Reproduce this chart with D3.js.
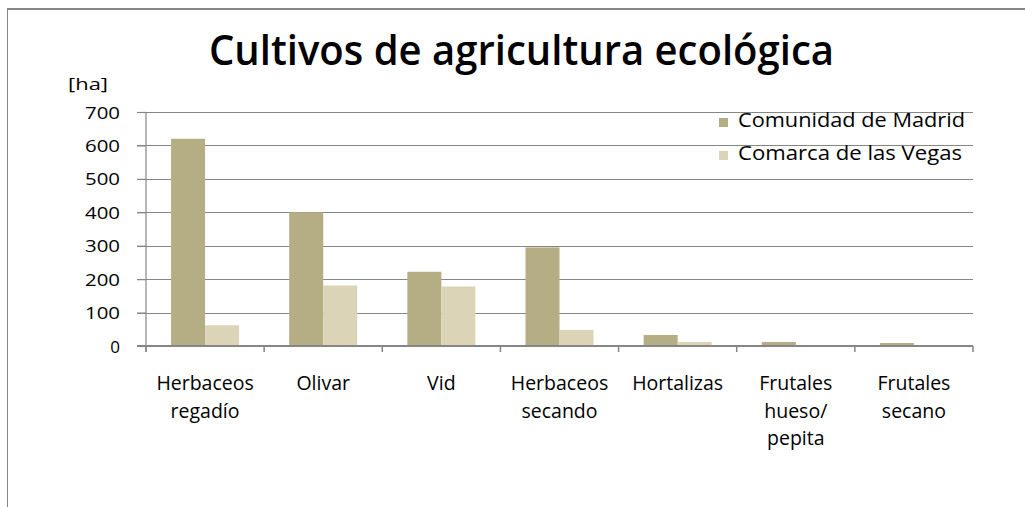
<!DOCTYPE html>
<html><head><meta charset="utf-8">
<script src="https://cdn.jsdelivr.net/npm/d3@7"></script>
<style>html,body{margin:0;padding:0;background:#fff;}svg{display:block;}</style>
</head><body>
<svg id="c" width="1025" height="507"></svg>
<script>
const categories = [["Herbaceos","regadío"],["Olivar"],["Vid"],["Herbaceos","secando"],["Hortalizas"],["Frutales","hueso/","pepita"],["Frutales","secano"]];
const seriesNames = ["Comunidad de Madrid","Comarca de las Vegas"];
const madrid = [620, 400, 222, 295, 33, 12, 9];
const vegas  = [62, 181, 178, 48, 12, 0, 0];
const yTicks = [0,100,200,300,400,500,600,700];
const colors = ["#b5ae85","#dbd4b7"];
const title = "Cultivos de agricultura ecológica";
const unit = "[ha]";

const svg = d3.select("#c");
const font = "'Open Sans', sans-serif";
const grey = "#868686";

// frame
svg.append("line").attr("x1",7).attr("x2",1025).attr("y1",9).attr("y2",9).attr("stroke",grey).attr("stroke-width",2);
svg.append("line").attr("x1",7.5).attr("x2",7.5).attr("y1",8).attr("y2",507).attr("stroke",grey).attr("stroke-width",1);

const keys = categories.map(c=>c.join(" "));
const x0 = d3.scaleBand().domain(keys).range([146,973]);
const x1 = d3.scaleBand().domain(seriesNames).range([0,x0.bandwidth()]).paddingInner(0).paddingOuter(0.737);
const y = d3.scaleLinear().domain([0,700]).range([346,112]);

// gridlines
svg.append("g").selectAll("line").data(yTicks.filter(d=>d>0)).join("line")
  .attr("x1",137).attr("x2",973).attr("y1",d=>Math.round(y(d))+0.5).attr("y2",d=>Math.round(y(d))+0.5)
  .attr("stroke",grey).attr("stroke-width",1.2);

// y axis
const yAxis = svg.append("g").attr("transform","translate(146,0)")
  .call(d3.axisLeft(y).tickValues(yTicks).tickSize(9).tickPadding(17).tickFormat(d3.format("d")));
yAxis.select(".domain").attr("stroke",grey).attr("stroke-width",1.2).attr("d","M0,112V352");
yAxis.selectAll(".tick line").attr("stroke",grey).attr("stroke-width",1.2);
yAxis.selectAll(".tick text").attr("font-family",font).attr("font-size",17).attr("font-weight",500)
  .attr("fill","#000").attr("dy","0.36em")
  .each(function(d){ if (d>=100) d3.select(this).attr("textLength",35).attr("lengthAdjust","spacingAndGlyphs"); });

// bars
const data = keys.map((k,i)=>({k, vals:[madrid[i], vegas[i]]}));
const groups = svg.append("g").selectAll("g").data(data).join("g")
  .attr("transform",d=>`translate(${x0(d.k)},0)`);
groups.selectAll("rect").data(d=>d.vals.map((v,j)=>({s:seriesNames[j],v,j}))).join("rect")
  .attr("x",d=>x1(d.s)).attr("width",x1.bandwidth())
  .attr("y",d=>y(d.v)).attr("height",d=>y(0)-y(d.v))
  .attr("fill",d=>colors[d.j]);

// x axis
const boundaries = keys.map(k=>x0(k)).concat([x0.range()[1]]);
svg.append("line").attr("x1",137).attr("x2",973).attr("y1",346).attr("y2",346).attr("stroke",grey).attr("stroke-width",2);
svg.append("g").selectAll("line").data(boundaries).join("line")
  .attr("x1",d=>d).attr("x2",d=>d).attr("y1",346).attr("y2",352).attr("stroke",grey).attr("stroke-width",1.5);

// x labels
const xl = svg.append("g").selectAll("text").data(categories).join("text")
  .attr("x",(d,i)=>x0(keys[i])+x0.bandwidth()/2).attr("y",390)
  .attr("text-anchor","middle").attr("font-family",font).attr("font-size",19.5).attr("fill","#000");
xl.selectAll("tspan").data(d=>d).join("tspan")
  .attr("x",function(){return d3.select(this.parentNode).attr("x");})
  .attr("dy",(d,i)=>i===0?0:27.5).text(d=>d);

// title
svg.append("text").attr("x",209).attr("y",65).attr("font-family",font).attr("font-size",42).attr("font-weight",600)
  .attr("textLength",625).attr("lengthAdjust","spacingAndGlyphs").attr("fill","#000").text(title);
svg.append("text").attr("x",68).attr("y",90).attr("font-family",font).attr("font-size",17).attr("font-weight",500)
  .attr("textLength",40).attr("lengthAdjust","spacingAndGlyphs").attr("fill","#000").text(unit);

// legend
const lg = svg.append("g").selectAll("g").data(seriesNames).join("g")
  .attr("transform",(d,i)=>`translate(719,${127+i*33})`);
lg.append("rect").attr("x",0).attr("y",-9).attr("width",9).attr("height",9).attr("fill",(d,i)=>colors[i]);
lg.append("text").attr("x",19).attr("y",0).attr("font-family",font).attr("font-size",19.5).attr("font-weight",500)
  .attr("textLength",(d,i)=>i===0?227:224).attr("lengthAdjust","spacingAndGlyphs").attr("fill","#000").text(d=>d);
</script>
</body></html>
